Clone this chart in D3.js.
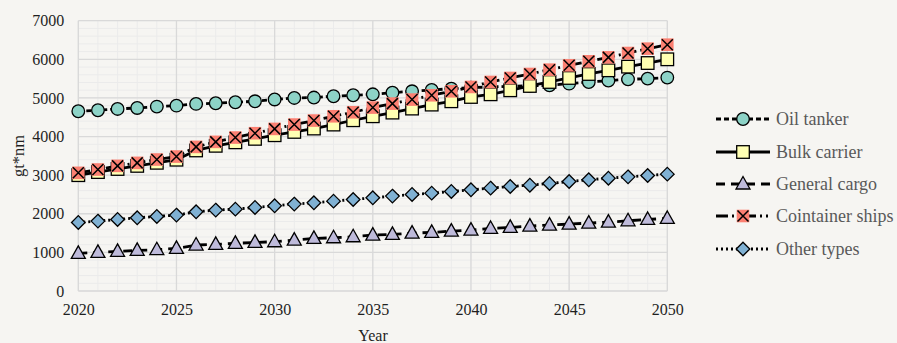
<!DOCTYPE html>
<html><head><meta charset="utf-8">
<script src="https://cdn.jsdelivr.net/npm/d3@7/dist/d3.min.js"></script>
<style>body{margin:0;background:#f6f5f2}svg{display:block}text{font-family:'Liberation Serif','Times New Roman',serif}</style>
</head><body><svg id="c" width="897" height="343"></svg>
<script>
const years = d3.range(2020, 2051);
const oilTanker = [4655,4681,4715,4740,4775,4800,4845,4862,4888,4913,4960,5000,5010,5043,5069,5094,5137,5172,5206,5240,5265,5285,5300,5315,5327,5370,5413,5448,5482,5500,5526];
const bulkCarrier = [3000,3080,3160,3240,3320,3400,3640,3760,3850,3940,4034,4120,4207,4310,4422,4525,4620,4724,4827,4913,5025,5094,5198,5310,5413,5517,5620,5715,5810,5904,6000];
const generalCargo = [975,1000,1026,1052,1069,1103,1190,1207,1233,1259,1276,1319,1362,1379,1405,1448,1465,1500,1517,1551,1577,1620,1646,1681,1707,1733,1758,1784,1818,1853,1879];
const containerShips = [3060,3146,3241,3318,3405,3482,3732,3862,3974,4086,4198,4310,4414,4525,4629,4750,4853,4957,5069,5172,5284,5413,5517,5620,5732,5844,5948,6051,6163,6276,6379];
const otherTypes = [1775,1810,1853,1896,1931,1965,2051,2095,2120,2164,2206,2250,2284,2327,2370,2413,2457,2500,2534,2578,2620,2664,2707,2741,2785,2836,2879,2922,2956,2992,3026];
const seriesNames = ["Oil tanker","Bulk carrier","General cargo","Cointainer ships","Other types"];
const xTicks = [2020,2025,2030,2035,2040,2045,2050];
const yTicks = [0,1000,2000,3000,4000,5000,6000,7000];

const series = [
  {name: seriesNames[0], values: oilTanker, color: "#8dd3c7", dash: "5,3", shape: "circle"},
  {name: seriesNames[1], values: bulkCarrier, color: "#ffffb3", dash: null, shape: "square"},
  {name: seriesNames[2], values: generalCargo, color: "#bebada", dash: "9,6", shape: "triangle"},
  {name: seriesNames[3], values: containerShips, color: "#fb8072", dash: "12,4,2,4,2,4", shape: "x"},
  {name: seriesNames[4], values: otherTypes, color: "#80b1d3", dash: "2,3", shape: "diamond"}
];

const svg = d3.select("#c");
const L = 78.3, R = 667.3, T = 20.7, B = 291;
const x = d3.scaleLinear().domain([2020, 2050]).range([L, R]);
const y = d3.scaleLinear().domain([0, 7000]).range([B, T]);
const font = "'Liberation Serif', 'Times New Roman', serif";

// minor grid
const g = svg.append("g");
g.selectAll("line.minx").data(years).join("line")
  .attr("x1", d => x(d)).attr("x2", d => x(d)).attr("y1", T).attr("y2", B)
  .attr("stroke", "#ebebeb").attr("stroke-width", 1);
g.selectAll("line.miny").data(d3.range(0, 7001, 200)).join("line")
  .attr("x1", L).attr("x2", R).attr("y1", d => y(d)).attr("y2", d => y(d))
  .attr("stroke", "#ebebeb").attr("stroke-width", 1);
// major grid
g.selectAll("line.majx").data(xTicks).join("line")
  .attr("x1", d => x(d)).attr("x2", d => x(d)).attr("y1", T).attr("y2", B)
  .attr("stroke", "#d9d9d9").attr("stroke-width", 1.3);
g.selectAll("line.majy").data(yTicks).join("line")
  .attr("x1", L).attr("x2", R).attr("y1", d => y(d)).attr("y2", d => y(d))
  .attr("stroke", "#d9d9d9").attr("stroke-width", 1.3);

// axes
const ax = svg.append("g").attr("transform", `translate(0,${B})`)
  .call(d3.axisBottom(x).tickValues(xTicks).tickFormat(d3.format("d")).tickSize(0).tickPadding(13));
const ay = svg.append("g").attr("transform", `translate(${L},0)`)
  .call(d3.axisLeft(y).tickValues(yTicks).tickFormat(d3.format("d")).tickSize(0).tickPadding(14));
[ax, ay].forEach(a => {
  a.attr("font-family", font).attr("font-size", 16);
  a.select(".domain").remove();
  a.selectAll("text").style("font-family", font).style("font-size", "16px").attr("fill", "#1f1f1f");
});

svg.append("text").attr("x", 373).attr("y", 341).attr("text-anchor", "middle")
  .style("font-family", font).style("font-size", "16px").attr("fill", "#1f1f1f").text("Year");
svg.append("text").attr("transform", "translate(24,156) rotate(-90)").attr("text-anchor", "middle")
  .style("font-family", font).style("font-size", "16.5px").attr("fill", "#1f1f1f").text("gt*nm");

function drawMarker(sel, shape, color) {
  const s = 6.3;
  if (shape === "circle") {
    sel.append("circle").attr("r", 6.3).attr("fill", color).attr("stroke", "#000").attr("stroke-width", 1.3);
  } else if (shape === "square") {
    sel.append("rect").attr("x", -s).attr("y", -s).attr("width", 2*s).attr("height", 2*s)
      .attr("fill", color).attr("stroke", "#000").attr("stroke-width", 1.3);
  } else if (shape === "triangle") {
    sel.append("path").attr("d", "M0,-7.5L7,5L-7,5Z").attr("fill", color).attr("stroke", "#000").attr("stroke-width", 1.3);
  } else if (shape === "diamond") {
    sel.append("path").attr("d", "M0,-6.8L6.8,0L0,6.8L-6.8,0Z").attr("fill", color).attr("stroke", "#000").attr("stroke-width", 1.3);
  } else if (shape === "x") {
    sel.append("rect").attr("x", -6.3).attr("y", -6.3).attr("width", 12.6).attr("height", 12.6).attr("fill", color);
    sel.append("path").attr("d", "M-5.5,-5.5L5.5,5.5M5.5,-5.5L-5.5,5.5").attr("stroke", "#000").attr("stroke-width", 1.5);
  }
}

const line = d3.line().x((d, i) => x(years[i])).y(d => y(d));
series.forEach(s => {
  const gs = svg.append("g");
  gs.append("path").attr("d", line(s.values)).attr("fill", "none").attr("stroke", "#000")
    .attr("stroke-width", 2.8).attr("stroke-dasharray", s.dash);
  s.values.forEach((v, i) => {
    const m = gs.append("g").attr("transform", `translate(${x(years[i])},${y(v)})`);
    drawMarker(m, s.shape, s.color);
  });
});

// legend
const legY = [119, 152, 184, 216, 249];
series.forEach((s, i) => {
  const lg = svg.append("g").attr("transform", `translate(0,${legY[i]})`);
  lg.append("line").attr("x1", 716).attr("x2", 770).attr("y1", 0).attr("y2", 0)
    .attr("stroke", "#000").attr("stroke-width", 2.8).attr("stroke-dasharray", s.dash);
  const m = lg.append("g").attr("transform", "translate(743,0)");
  drawMarker(m, s.shape, s.color);
  lg.append("text").attr("x", 776).attr("y", 6).style("font-family", font).style("font-size", "18px")
    .attr("fill", "#595959").text(s.name);
});
</script></body></html>
